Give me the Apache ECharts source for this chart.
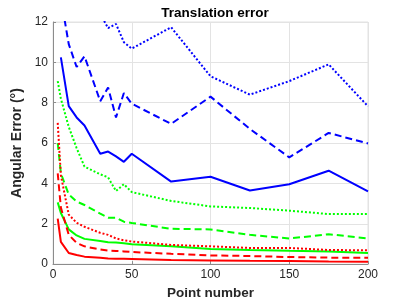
<!DOCTYPE html>
<html><head><meta charset="utf-8">
<script src="https://cdn.jsdelivr.net/npm/echarts@6/dist/echarts.min.js"></script>
<style>html,body{margin:0;padding:0;background:#fff}#c{width:407px;height:305px}</style>
</head><body><div id="c"></div>
<script>
const pointNumbers = [3, 5, 10, 15, 20, 30, 35, 40, 45, 50, 75, 100, 125, 150, 175, 200];
const blueSolid  = [null, 10.25, 7.83, 7.27, 6.87, 5.47, 5.58, 5.34, 5.07, 5.47, 4.09, 4.33, 3.65, 3.96, 4.63, 3.6];
const blueDashed = [null, 13.2, 10.9, 9.77, 10.3, 8.07, 8.75, 7.27, 8.48, 7.95, 6.95, 8.3, 6.7, 5.29, 6.5, 5.98];
const blueDotted = [null, null, null, null, null, 12.4, 11.7, 11.9, 11.0, 10.68, 11.74, 9.31, 8.4, 9.07, 9.9, 7.82];
const greenSolid  = [3.06, 2.53, 1.72, 1.42, 1.25, 1.15, 1.08, 1.07, 1.03, 0.98, 0.88, 0.75, 0.7, 0.66, 0.63, 0.55];
const greenDashed = [6.0, 4.5, 3.45, 3.1, 2.93, 2.5, 2.3, 2.3, 2.1, 2.04, 1.75, 1.72, 1.45, 1.27, 1.48, 1.27];
const greenDotted = [9.07, 8.2, 6.8, 5.75, 4.83, 4.45, 4.3, 3.62, 3.96, 3.57, 3.13, 2.86, 2.78, 2.65, 2.48, 2.48];
const redSolid  = [2.25, 1.1, 0.55, 0.45, 0.37, 0.32, 0.28, 0.27, 0.26, 0.25, 0.2, 0.18, 0.16, 0.15, 0.13, 0.12];
const redDashed = [4.5, 2.8, 1.45, 1.05, 0.88, 0.72, 0.67, 0.65, 0.63, 0.6, 0.51, 0.43, 0.4, 0.35, 0.32, 0.32];
const redDotted = [7.0, 4.4, 2.45, 2.05, 1.85, 1.55, 1.45, 1.27, 1.18, 1.12, 0.95, 0.88, 0.8, 0.8, 0.7, 0.68];
const xTicks = [0, 50, 100, 150, 200];
const yTicks = [0, 2, 4, 6, 8, 10, 12];

const FONT = 'Liberation Sans';
function pairs(vals){ return pointNumbers.map((x,i)=>[x, vals[i]]); }
function mk(vals, color, dash){
  return {type:'line', data:pairs(vals), symbol:'none', connectNulls:false, clip:true,
    lineStyle:{color:color, width:2, type:dash}, itemStyle:{color:color}};
}
const DASH=[7,4], DOT=[2,2];
const chart = echarts.init(document.getElementById('c'), null, {renderer:'canvas'});
const axisCommon = {
  axisLine:{show:true, onZero:false, lineStyle:{color:'#8c8c8c', width:1}},
  axisTick:{show:true, inside:true, length:3, lineStyle:{color:'#8c8c8c'}},
  splitLine:{show:true, lineStyle:{color:'#e3e3e3', width:1}},
  axisLabel:{color:'#262626', fontFamily:FONT, fontSize:12},
  nameTextStyle:{color:'#262626', fontFamily:FONT, fontSize:13.5, fontWeight:'bold'}
};
chart.setOption({
  animation:false,
  backgroundColor:'#fff',
  title:{text:'Translation error', left:210, top:1, textAlign:'center',
    textStyle:{fontFamily:FONT, fontSize:13.5, fontWeight:'bold', color:'#000'}},
  grid:{left:53, right:39, top:22, bottom:34, show:true, borderColor:'#e3e3e3', borderWidth:1},
  xAxis:Object.assign({type:'value', min:xTicks[0], max:xTicks[xTicks.length-1], interval:50,
    name:'Point number', nameLocation:'middle', nameGap:20}, axisCommon,
    {axisLabel:Object.assign({}, axisCommon.axisLabel, {margin:5})}),
  yAxis:Object.assign({type:'value', min:yTicks[0], max:yTicks[yTicks.length-1], interval:2,
    name:'Angular Error (°)', nameLocation:'middle', nameGap:20}, axisCommon,
    {axisLabel:Object.assign({}, axisCommon.axisLabel, {margin:5}),
     nameTextStyle:Object.assign({}, axisCommon.nameTextStyle, {fontSize:14})}),
  series:[
    mk(blueSolid,'#0000ff','solid'), mk(blueDashed,'#0000ff',DASH), mk(blueDotted,'#0000ff',DOT),
    mk(greenSolid,'#00ff00','solid'), mk(greenDashed,'#00ff00',DASH), mk(greenDotted,'#00ff00',DOT),
    mk(redSolid,'#ff0000','solid'), mk(redDashed,'#ff0000',DASH), mk(redDotted,'#ff0000',DOT)
  ]
});
</script></body></html>
